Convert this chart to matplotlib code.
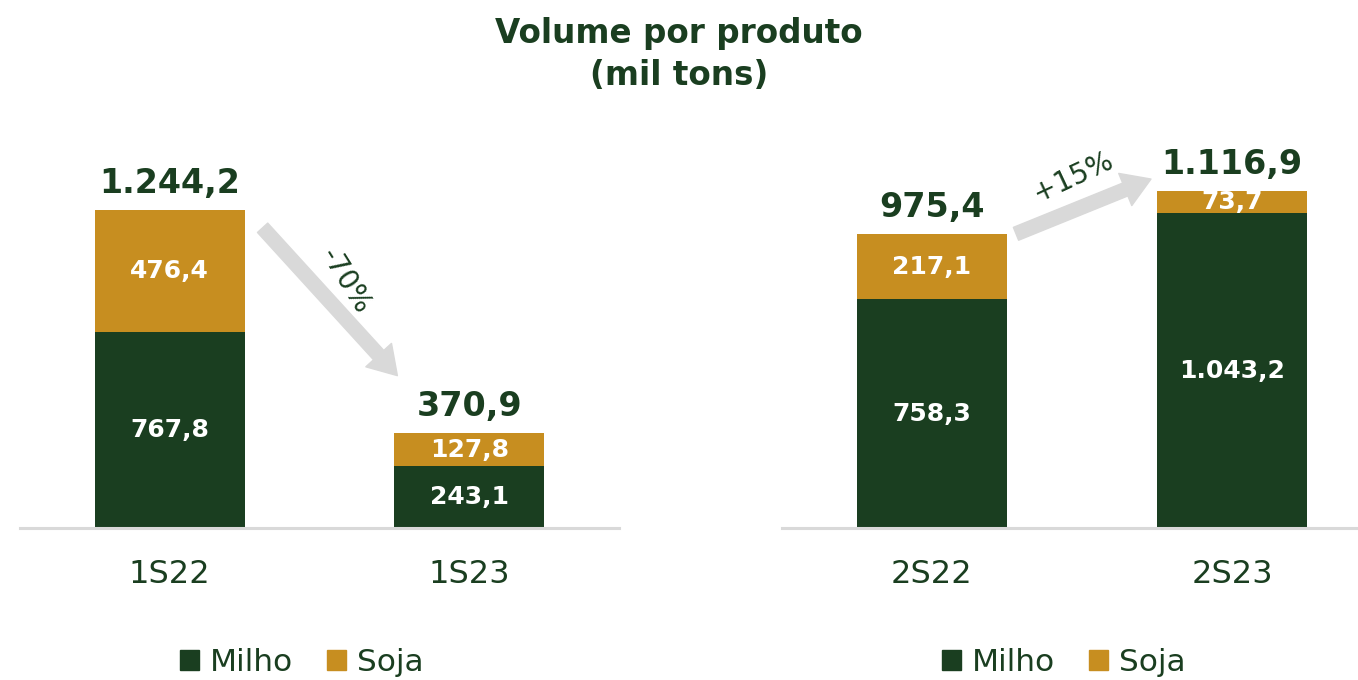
import matplotlib
matplotlib.use("Agg")
import matplotlib.pyplot as plt
from matplotlib.patches import Patch

# Data (mil tons)
periods_1s = ["1S22", "1S23"]
milho_1s = [767.8, 243.1]
soja_1s = [476.4, 127.8]

periods_2s = ["2S22", "2S23"]
milho_2s = [758.3, 1043.2]
soja_2s = [217.1, 73.7]

# Colours
green = "#1A3E20"
gold = "#C78E20"
grey = "#D9D9D9"

plt.rcParams['font.family'] = ['DejaVu Sans']


def fmt(v):
    # Brazilian number format: 1.244,2
    s = f"{v:,.1f}"
    return s.replace(",", "X").replace(".", ",").replace("X", ".")


def draw_panel(ax, periods, milho, soja, ymax, legend_x):
    x = list(range(len(periods)))
    totals = [m + s for m, s in zip(milho, soja)]
    b1 = ax.bar(x, milho, width=0.5, color=green, edgecolor="none")
    b2 = ax.bar(x, soja, width=0.5, bottom=milho, color=gold, edgecolor="none")
    for bars in (b1, b2):
        for rect in bars:
            h = rect.get_height()
            ax.text(rect.get_x() + rect.get_width() / 2, rect.get_y() + h / 2,
                    fmt(h), ha="center", va="center", color="white",
                    fontsize=18, fontweight="bold")
    for xi, t in zip(x, totals):
        ax.annotate(fmt(t), (xi, t), xytext=(0, 7), textcoords="offset points",
                    ha="center", va="bottom", color=green, fontsize=24,
                    fontweight="bold")
    ax.set_xlim(-0.5, 1.5)
    ax.set_ylim(0, ymax)
    ax.set_xticks(x)
    ax.set_xticklabels(periods, fontsize=23, color=green)
    ax.tick_params(axis="x", length=0, pad=22)
    ax.set_yticks([])
    for side in ("left", "right", "top"):
        ax.spines[side].set_visible(False)
    ax.spines["bottom"].set_color(grey)
    ax.spines["bottom"].set_linewidth(2.2)
    handles = [Patch(color=green, label="Milho"), Patch(color=gold, label="Soja")]
    ax.legend(handles=handles, loc="center", bbox_to_anchor=(legend_x, -0.315),
              ncol=2, frameon=False, fontsize=22.5, handlelength=0.6,
              handleheight=0.6, handletextpad=0.35, columnspacing=1.1,
              labelcolor=green)
    return totals


fig = plt.figure(figsize=(13.58, 6.8), dpi=100)
fig.patch.set_facecolor("white")

ax1 = fig.add_axes([20 / 1358, 152 / 680, 599 / 1358, 428 / 680])
ax2 = fig.add_axes([782 / 1358, 152 / 680, 600 / 1358, 428 / 680])

tot1 = draw_panel(ax1, periods_1s, milho_1s, soja_1s, 1674, 0.47)
tot2 = draw_panel(ax2, periods_2s, milho_2s, soja_2s, 1419, 0.47)

arrow_kw = dict(arrowstyle="simple,head_width=1.25,head_length=1.0,tail_width=0.5",
                color=grey, mutation_scale=20, shrinkA=0, shrinkB=0)

# -70% arrow
chg1 = (tot1[1] / tot1[0] - 1) * 100
ax1.annotate("", xy=(0.76, tot1[1] + 225), xytext=(0.31, tot1[0] - 70),
             arrowprops=arrow_kw, annotation_clip=False)
ax1.text(0.585, 965, f"{chg1:+.0f}%", rotation=-58,
         ha="center", va="center", color=green, fontsize=20, rotation_mode="anchor")

# +15% arrow
chg2 = (tot2[1] / tot2[0] - 1) * 100
ax2.annotate("", xy=(0.73, tot2[1] + 40), xytext=(0.28, tot2[0]),
             arrowprops=arrow_kw, annotation_clip=False)
ax2.text(0.47, 1165, f"{chg2:+.0f}%", rotation=25, ha="center", va="center",
         color=green, fontsize=20, rotation_mode="anchor", clip_on=False)

fig.text(0.5, 1 - 17 / 680, "Volume por produto\n(mil tons)", ha="center", va="top",
         color=green, fontsize=23.5, fontweight="bold", linespacing=1.35)

fig.savefig("out.png", dpi=100, facecolor="white")
